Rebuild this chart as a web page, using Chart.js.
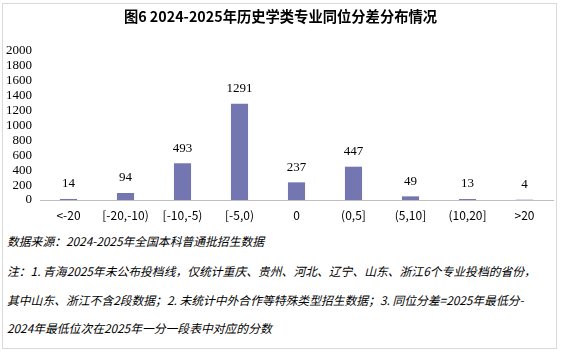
<!DOCTYPE html>
<html>
<head>
<meta charset="utf-8">
<title>历史学类专业同位分差分布</title>
<script src="https://cdn.jsdelivr.net/npm/chart.js"></script>
<style>
  body { margin: 0; background: #fff; }
  #wrap { position: relative; width: 561px; height: 352px; overflow: hidden; }
  #frame {
    position: absolute; left: 2px; top: 3px; width: 555px; height: 346px;
    box-sizing: border-box; border: 1px solid #d9d9d9;
  }
  #title {
    position: absolute; left: 0; top: 5px; width: 561px; text-align: center;
    font: bold 14.3px "Noto Sans CJK SC", sans-serif; line-height: 22px; color: #000;
  }
  #chartBox { position: absolute; left: 0; top: 0; width: 561px; height: 226px; }
  .note {
    position: absolute; left: 7px; width: 550px;
    font: italic 11.8px "Noto Sans CJK SC", sans-serif; color: #000; white-space: nowrap;
  }
</style>
</head>
<body>
<div id="wrap">
  <div id="frame"></div>
  <div id="chartBox"><canvas id="bar" width="561" height="226"></canvas></div>
  <div id="title">图6 2024-2025年历史学类专业同位分差分布情况</div>
  <div class="note" style="top:232px">数据来源：2024-2025年全国本科普通批招生数据</div>
  <div class="note" style="top:262px">注：1. 青海2025年未公布投档线，仅统计重庆、贵州、河北、辽宁、山东、浙江6个专业投档的省份，</div>
  <div class="note" style="top:291px">其中山东、浙江不含2段数据；2. 未统计中外合作等特殊类型招生数据；3. 同位分差=2025年最低分-</div>
  <div class="note" style="top:319px">2024年最低位次在2025年一分一段表中对应的分数</div>
</div>
<script>
// data
const categories = ["<-20", "[-20,-10)", "[-10,-5)", "[-5,0)", "0", "(0,5]", "(5,10]", "(10,20]", ">20"];
const counts = [14, 94, 493, 1291, 237, 447, 49, 13, 4];
const yTicks = [0, 200, 400, 600, 800, 1000, 1200, 1400, 1600, 1800, 2000];

// value labels above each bar
const barLabels = {
  id: "barLabels",
  afterDatasetsDraw(chart) {
    const ctx = chart.ctx;
    const meta = chart.getDatasetMeta(0);
    ctx.save();
    ctx.font = "13px 'Liberation Serif', serif";
    ctx.fillStyle = "#000";
    ctx.textAlign = "center";
    ctx.textBaseline = "middle";
    meta.data.forEach((bar, i) => {
      ctx.fillText(String(counts[i]), bar.x, bar.y - 15);
    });
    ctx.restore();
  }
};

new Chart(document.getElementById("bar"), {
  type: "bar",
  data: {
    labels: categories,
    datasets: [{
      data: counts,
      backgroundColor: "#7376b0",
      categoryPercentage: 1,
      barPercentage: 0.3
    }]
  },
  options: {
    responsive: false,
    animation: false,
    devicePixelRatio: 1,
    layout: { padding: { top: 51, right: 8, left: 0, bottom: 0 } },
    plugins: { legend: { display: false }, tooltip: { enabled: false }, title: { display: false } },
    scales: {
      x: {
        grid: { display: false, drawTicks: false },
        border: { display: true, color: "#bfbfbf", width: 1 },
        ticks: {
          color: "#000",
          font: { family: "'Noto Sans CJK SC', sans-serif", size: 12 },
          maxRotation: 0, autoSkip: false, padding: 8
        },
        afterFit(scale) { scale.height = 26; }
      },
      y: {
        min: 0, max: 2000,
        afterBuildTicks(scale) { scale.ticks = yTicks.map(v => ({ value: v })); },
        grid: { display: false, drawTicks: false },
        border: { display: false },
        ticks: {
          color: "#000",
          font: { family: "'Liberation Serif', serif", size: 13 },
          padding: 8,
          autoSkip: false,
          callback: v => String(v)
        },
        afterFit(scale) { scale.width = 40; }
      }
    }
  },
  plugins: [barLabels]
});
</script>
</body>
</html>
